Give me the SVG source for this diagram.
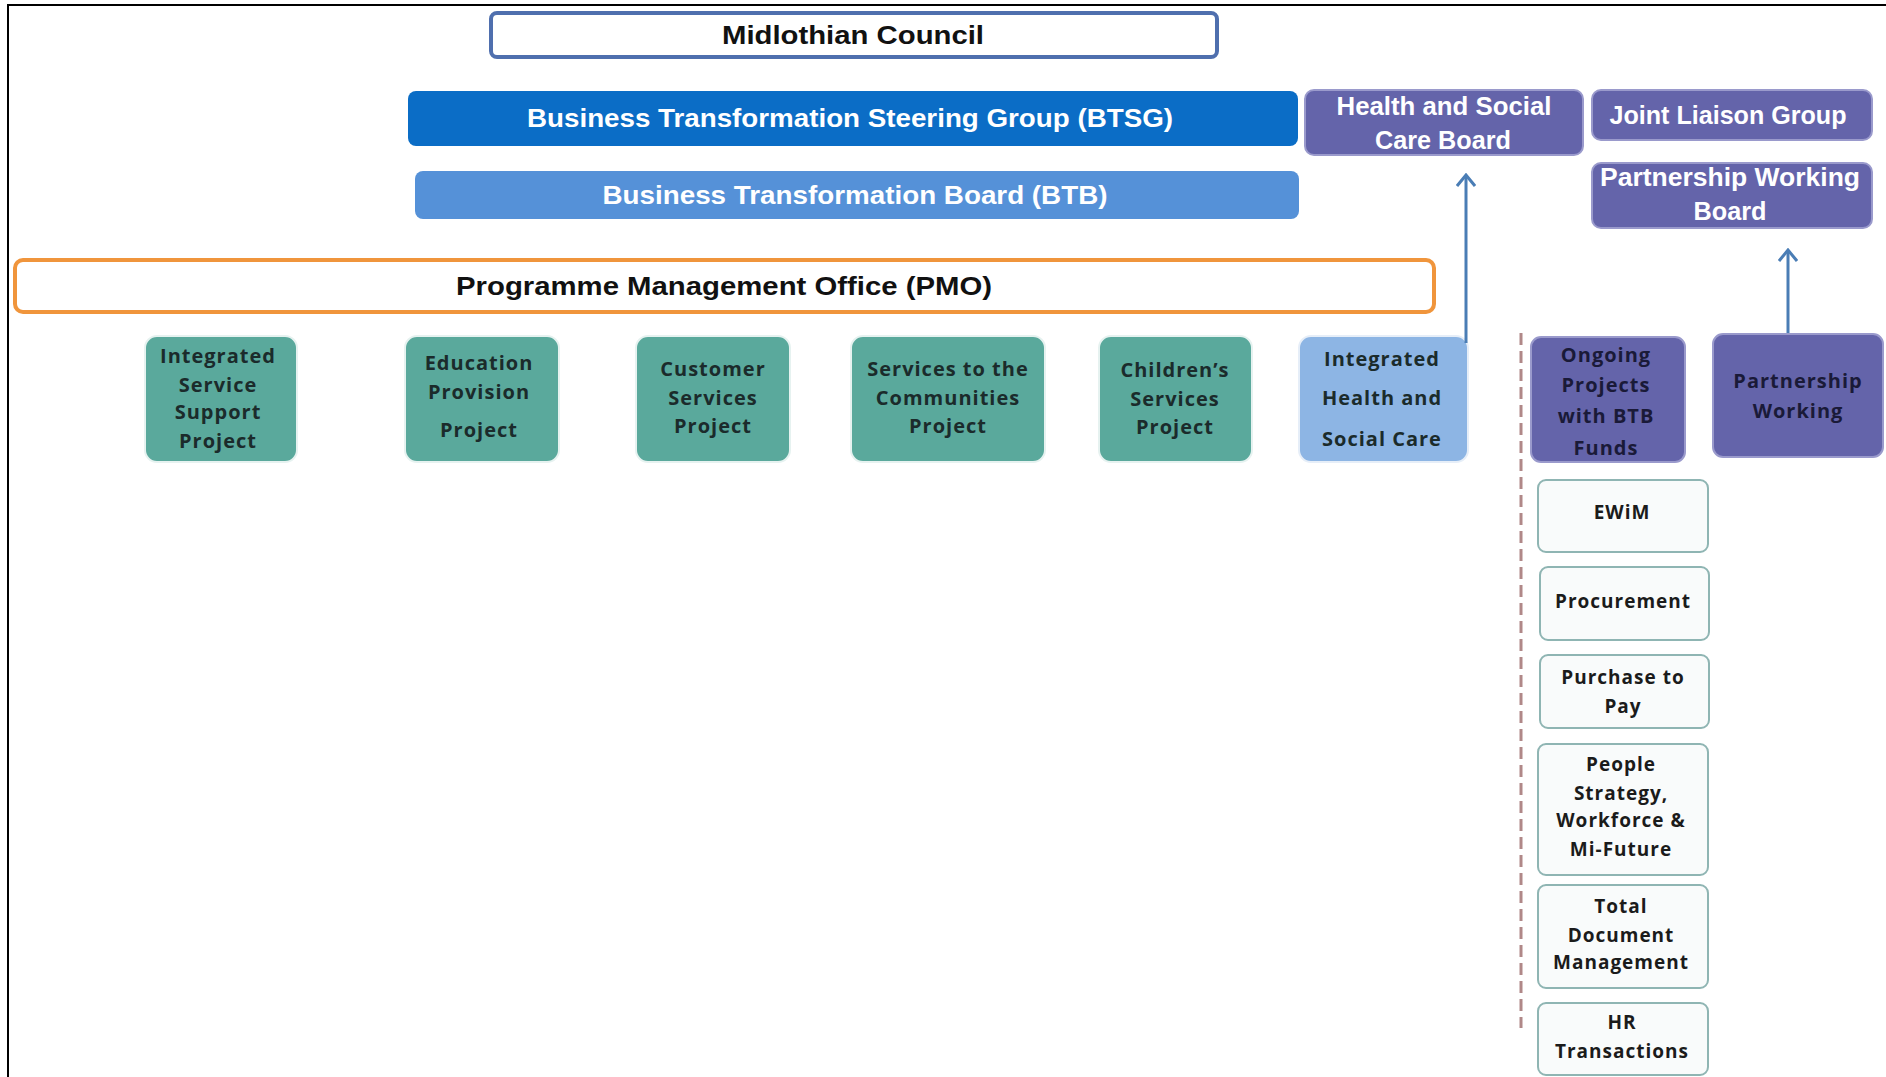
<svg xmlns="http://www.w3.org/2000/svg" width="1886" height="1077" viewBox="0 0 1886 1077">
<defs>
<marker id="arr" viewBox="-12 -10 14 20" markerWidth="14" markerHeight="20" refX="0" refY="0" orient="auto" markerUnits="userSpaceOnUse">
<polyline points="-11,-9 0,0 -11,9" fill="none" stroke="#4a7db5" stroke-width="3"/>
</marker>
<style>
.t{font-family:"Open Sans","Liberation Sans",sans-serif;font-weight:700;text-anchor:middle;dominant-baseline:central;letter-spacing:1px}
.h{font-family:"Liberation Sans","Open Sans",sans-serif;font-weight:bold;text-anchor:middle;dominant-baseline:central}
.teal{fill:#5aa99c;stroke:#e6f2f0;stroke-width:2}
.purple{fill:#6464aa;stroke:#9a9acc;stroke-width:2}
.light{fill:#f9fbfb;stroke:#8fb5b3;stroke-width:2}
.dk{fill:#1b2b2b;font-size:20px}
.sm{fill:#1b1b1b;font-size:19px}
.w{fill:#ffffff}
</style>
</defs>
<rect x="0" y="0" width="1886" height="1077" fill="#ffffff"/>
<path d="M8,1077 V5 H1886" fill="none" stroke="#000" stroke-width="2"/>

<g id="midlothian">
<rect x="491" y="13" width="726" height="44" rx="6" fill="#ffffff" stroke="#4f6fae" stroke-width="4"/>
<text class="h" x="853" y="35" font-size="26" fill="#111" textLength="262" lengthAdjust="spacingAndGlyphs">Midlothian Council</text>
</g>
<g id="btsg">
<rect x="408" y="91" width="890" height="55" rx="8" fill="#0b6dc6"/>
<text class="h w" x="850" y="118" font-size="26" textLength="646" lengthAdjust="spacingAndGlyphs">Business Transformation Steering Group (BTSG)</text>
</g>
<g id="btb">
<rect x="415" y="171" width="884" height="48" rx="8" fill="#5591d8"/>
<text class="h w" x="855" y="195" font-size="26" textLength="505" lengthAdjust="spacingAndGlyphs">Business Transformation Board (BTB)</text>
</g>
<g id="pmo">
<rect x="15" y="260" width="1419" height="52" rx="8" fill="#ffffff" stroke="#f0953c" stroke-width="4"/>
<text class="h" x="724" y="286" font-size="26" fill="#111" textLength="536" lengthAdjust="spacingAndGlyphs">Programme Management Office (PMO)</text>
</g>
<g id="hscb">
<rect x="1305" y="90" width="278" height="65" rx="9" class="purple"/>
<text class="h w" x="1444" y="106" font-size="25" textLength="215" lengthAdjust="spacingAndGlyphs">Health and Social</text>
<text class="h w" x="1443" y="140" font-size="25" textLength="136" lengthAdjust="spacingAndGlyphs">Care Board</text>
</g>
<g id="jlg">
<rect x="1592" y="90" width="280" height="50" rx="9" class="purple"/>
<text class="h w" x="1728" y="115" font-size="25" textLength="237" lengthAdjust="spacingAndGlyphs">Joint Liaison Group</text>
</g>
<g id="pwb">
<rect x="1592" y="163" width="280" height="65" rx="9" class="purple"/>
<text class="h w" x="1730" y="177" font-size="25" textLength="260" lengthAdjust="spacingAndGlyphs">Partnership Working</text>
<text class="h w" x="1730" y="211" font-size="25" textLength="73" lengthAdjust="spacingAndGlyphs">Board</text>
</g>

<g id="issp">
<rect x="145" y="336" width="152" height="126" rx="12" class="teal"/>
<text class="t dk" x="218" y="355">Integrated</text>
<text class="t dk" x="218" y="384">Service</text>
<text class="t dk" x="218" y="411">Support</text>
<text class="t dk" x="218" y="440">Project</text>
</g>
<g id="epp">
<rect x="405" y="336" width="154" height="126" rx="12" class="teal"/>
<text class="t dk" x="479" y="362">Education</text>
<text class="t dk" x="479" y="391">Provision</text>
<text class="t dk" x="479" y="429">Project</text>
</g>
<g id="csp">
<rect x="636" y="336" width="154" height="126" rx="12" class="teal"/>
<text class="t dk" x="713" y="368">Customer</text>
<text class="t dk" x="713" y="397">Services</text>
<text class="t dk" x="713" y="425">Project</text>
</g>
<g id="stcp">
<rect x="851" y="336" width="194" height="126" rx="12" class="teal"/>
<text class="t dk" x="948" y="368">Services to the</text>
<text class="t dk" x="948" y="397">Communities</text>
<text class="t dk" x="948" y="425">Project</text>
</g>
<g id="chsp">
<rect x="1099" y="336" width="153" height="126" rx="12" class="teal"/>
<text class="t dk" x="1175" y="369">Children’s</text>
<text class="t dk" x="1175" y="398">Services</text>
<text class="t dk" x="1175" y="426">Project</text>
</g>
<g id="ihsc">
<rect x="1299" y="336" width="169" height="126" rx="12" fill="#8db5e4" stroke="#e6eef8" stroke-width="2"/>
<text class="t dk" x="1382" y="358">Integrated</text>
<text class="t dk" x="1382" y="397">Health and</text>
<text class="t dk" x="1382" y="438">Social Care</text>
</g>
<g id="ongoing">
<rect x="1531" y="337" width="154" height="125" rx="10" class="purple"/>
<text class="t" x="1606" y="354" font-size="20" fill="#1a1a38">Ongoing</text>
<text class="t" x="1606" y="384" font-size="20" fill="#1a1a38">Projects</text>
<text class="t" x="1606" y="415" font-size="20" fill="#1a1a38">with BTB</text>
<text class="t" x="1606" y="447" font-size="20" fill="#1a1a38">Funds</text>
</g>
<g id="pw">
<rect x="1713" y="334" width="170" height="123" rx="10" class="purple"/>
<text class="t" x="1798" y="380" font-size="20" fill="#1a1a38">Partnership</text>
<text class="t" x="1798" y="410" font-size="20" fill="#1a1a38">Working</text>
</g>

<g id="ewim">
<rect x="1538" y="480" width="170" height="72" rx="8" class="light"/>
<text class="t sm" x="1622" y="512">EWiM</text>
</g>
<g id="procurement">
<rect x="1540" y="567" width="169" height="73" rx="8" class="light"/>
<text class="t sm" x="1623" y="601">Procurement</text>
</g>
<g id="p2p">
<rect x="1540" y="655" width="169" height="73" rx="8" class="light"/>
<text class="t sm" x="1623" y="677">Purchase to</text>
<text class="t sm" x="1623" y="706">Pay</text>
</g>
<g id="people">
<rect x="1538" y="744" width="170" height="131" rx="8" class="light"/>
<text class="t sm" x="1621" y="764">People</text>
<text class="t sm" x="1621" y="793">Strategy,</text>
<text class="t sm" x="1621" y="820">Workforce &amp;</text>
<text class="t sm" x="1621" y="849">Mi-Future</text>
</g>
<g id="tdm">
<rect x="1538" y="885" width="170" height="103" rx="8" class="light"/>
<text class="t sm" x="1621" y="906">Total</text>
<text class="t sm" x="1621" y="935">Document</text>
<text class="t sm" x="1621" y="962">Management</text>
</g>
<g id="hr">
<rect x="1538" y="1003" width="170" height="72" rx="8" class="light"/>
<text class="t sm" x="1622" y="1022">HR</text>
<text class="t sm" x="1622" y="1051">Transactions</text>
</g>

<g id="connectors">
<line x1="1466" y1="343" x2="1466" y2="175" stroke="#4a7db5" stroke-width="3" marker-end="url(#arr)"/>
<line x1="1788" y1="333" x2="1788" y2="250" stroke="#4a7db5" stroke-width="3" marker-end="url(#arr)"/>
<line x1="1521" y1="333" x2="1521" y2="1028" stroke="#b08888" stroke-width="3" stroke-dasharray="12,6"/>
</g>
</svg>
